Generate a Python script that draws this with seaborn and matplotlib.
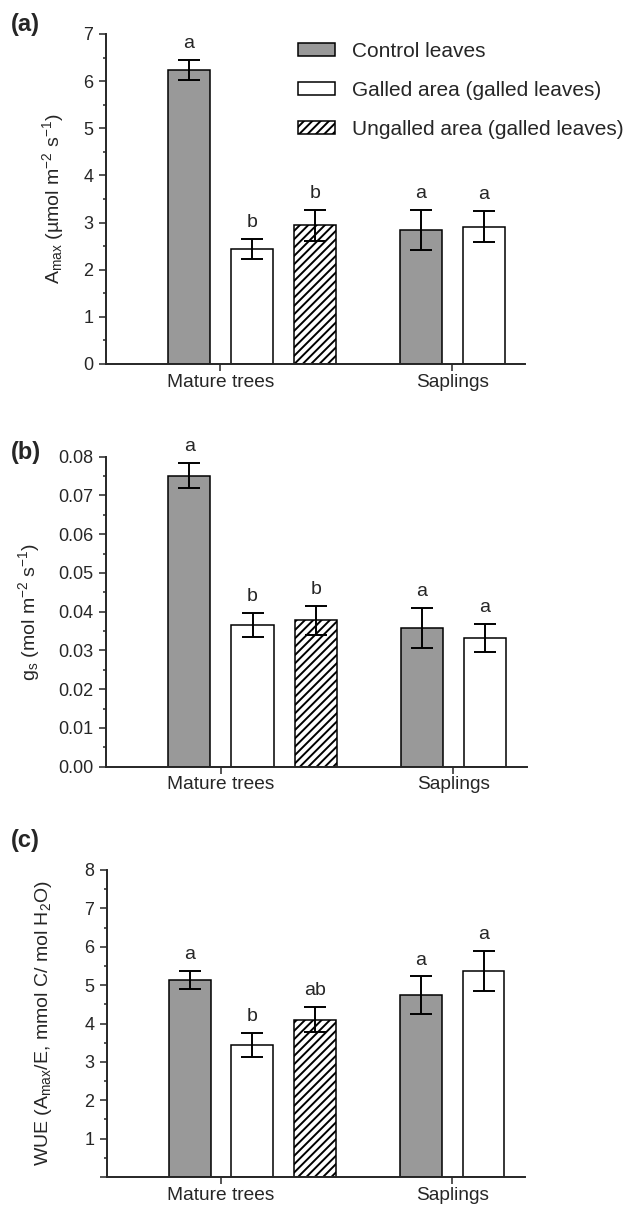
import numpy as np
import pandas as pd
import matplotlib
matplotlib.use("Agg")
import matplotlib.pyplot as plt
import seaborn as sns
from matplotlib.patches import Patch
from matplotlib.ticker import MultipleLocator, FormatStrFormatter

# ---------------- data ----------------
groups = ["Mature trees", "Mature trees", "Mature trees", "Saplings", "Saplings"]
treatments = ["Control leaves", "Galled area (galled leaves)",
              "Ungalled area (galled leaves)", "Control leaves",
              "Galled area (galled leaves)"]
group_labels = ["Mature trees", "Saplings"]

amax = [6.24, 2.44, 2.94, 2.84, 2.91]
amax_se = [0.21, 0.22, 0.33, 0.43, 0.33]
amax_letters = ["a", "b", "b", "a", "a"]

gs = [0.0751, 0.0365, 0.0378, 0.0358, 0.0333]
gs_se = [0.0033, 0.0031, 0.0037, 0.0052, 0.0036]
gs_letters = ["a", "b", "b", "a", "a"]

wue = [5.14, 3.45, 4.10, 4.74, 5.37]
wue_se = [0.235, 0.315, 0.325, 0.485, 0.52]
wue_letters = ["a", "b", "ab", "a", "a"]

# ---------------- layout / style ----------------
hue_order = ["Control leaves", "Galled area (galled leaves)",
             "Ungalled area (galled leaves)"]
colors = {"Control leaves": "#999999",
          "Galled area (galled leaves)": "#ffffff",
          "Ungalled area (galled leaves)": "#ffffff"}
hatches = {"Control leaves": None,
           "Galled area (galled leaves)": None,
           "Ungalled area (galled leaves)": "////"}
BAR_SLOTS = [0, 1, 2, 3.68, 4.68]   # bar slot layout along x
GROUP_TICKS = [0.5, 4.18]
XLIM = (-1.32, 5.34)

sns.set_style("ticks")
plt.rcParams["font.family"] = ["Liberation Sans", "DejaVu Sans"]
plt.rcParams["mathtext.fontset"] = "custom"
plt.rcParams["mathtext.rm"] = "Liberation Sans"
plt.rcParams["mathtext.it"] = "Liberation Sans:italic"
plt.rcParams["mathtext.bf"] = "Liberation Sans:bold"
plt.rcParams["hatch.linewidth"] = 1.4
plt.rcParams["axes.linewidth"] = 1.4

W, H = 631, 1212
fig = plt.figure(figsize=(W / 100, H / 100), dpi=100)


def add_ax(left, top, right, bottom):
    return fig.add_axes([left / W, 1 - bottom / H, (right - left) / W, (bottom - top) / H])


def panel(ax, vals, errs, letters, ylim, major, minor, fmt, ylabel, label_x,
          hide_zero=False):
    df = pd.DataFrame({"pos": BAR_SLOTS, "value": vals, "se": errs,
                       "treatment": treatments, "group": groups,
                       "letter": letters})
    sns.barplot(data=df, x="pos", y="value", hue="treatment",
                hue_order=hue_order, palette=colors, native_scale=True,
                dodge=False, width=0.667, edgecolor="black", linewidth=1.1,
                errorbar=None, legend=False, saturation=1, ax=ax)
    for cont, name in zip(ax.containers, hue_order):
        if hatches[name]:
            for p in cont:
                p.set_hatch(hatches[name])
    ax.errorbar(df["pos"], df["value"], yerr=df["se"], fmt="none",
                ecolor="black", elinewidth=1.4, capsize=8, capthick=1.4)
    for _, r in df.iterrows():
        ax.annotate(r["letter"], (r["pos"], r["value"] + r["se"]),
                    xytext=(0, 8.5), textcoords="offset points",
                    ha="center", va="baseline", fontsize=14)
    sns.despine(ax=ax)
    ax.set_xlim(*XLIM)
    ax.set_ylim(*ylim)
    ax.set_xticks(GROUP_TICKS)
    ax.set_xticklabels(group_labels)
    ax.set_xlabel("")
    ax.yaxis.set_major_locator(MultipleLocator(major))
    ax.yaxis.set_minor_locator(MultipleLocator(minor))
    if fmt:
        ax.yaxis.set_major_formatter(FormatStrFormatter(fmt))
    if hide_zero:
        ax.yaxis.set_major_formatter(
            plt.FuncFormatter(lambda v, p: "" if abs(v) < 1e-9 else f"{v:g}"))
    ax.tick_params(axis="y", which="major", length=5, width=1.1,
                   labelsize=13, pad=4)
    ax.tick_params(axis="y", which="minor", length=2.5, width=1.1)
    ax.tick_params(axis="x", which="major", length=5, width=1.1,
                   labelsize=13.8, pad=2)
    ax.tick_params(axis="x", which="minor", bottom=False)
    ax.set_ylabel(ylabel, fontsize=14)
    ax.yaxis.set_label_coords(label_x, 0.5)


ax_a = add_ax(105.7, 34, 525.3, 364)
panel(ax_a, amax, amax_se, amax_letters, (0, 7), 1, 0.5, None,
      r"A$_{\mathrm{max}}$ (µmol m$^{-2}$ s$^{-1}$)", -0.095)

ax_b = add_ax(106, 456.7, 526.7, 766.7)
panel(ax_b, gs, gs_se, gs_letters, (0, 0.08), 0.01, 0.005, "%.2f",
      r"g$_{\mathrm{s}}$ (mol m$^{-2}$ s$^{-1}$)", -0.152)

ax_c = add_ax(106.7, 870, 525, 1177)
panel(ax_c, wue, wue_se, wue_letters, (0, 8), 1, 0.5, None,
      r"WUE (A$_{\mathrm{max}}$/E, mmol C/ mol H$_{2}$O)", -0.126,
      hide_zero=True)

handles = [Patch(facecolor=colors[h], edgecolor="black", linewidth=1.1,
                 hatch=hatches[h], label=h) for h in hue_order]
ax_a.legend(handles=handles, loc="upper left",
            bbox_to_anchor=(298 / W, 1 - 42 / H), bbox_transform=fig.transFigure,
            frameon=False, fontsize=15, handlelength=1.78, handleheight=0.58,
            handletextpad=0.82, labelspacing=0.96, borderpad=0, borderaxespad=0)

for lab, y in [("(a)", 25), ("(b)", 453), ("(c)", 840)]:
    fig.text(11 / W, 1 - y / H, lab, fontsize=17, fontweight="bold",
             ha="left", va="center")

fig.savefig("out.png", dpi=100)
